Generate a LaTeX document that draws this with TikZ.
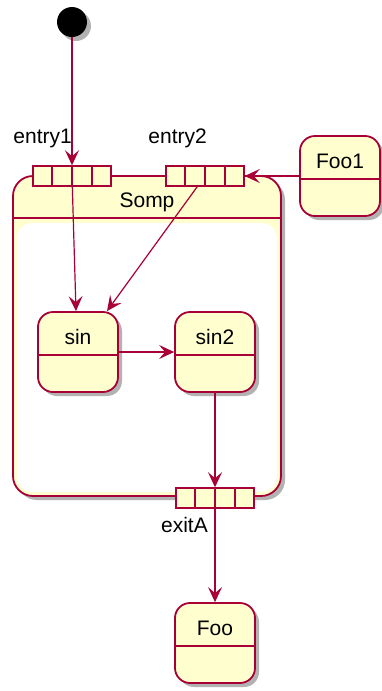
\documentclass[tikz,border=0pt]{standalone}
\usepackage{fontspec}
\setmainfont{Liberation Sans}
\usetikzlibrary{arrows.meta,shadows,calc}
\definecolor{StateFill}{HTML}{FEFECE}
\definecolor{StateBorder}{HTML}{A80036}

\begin{document}
\begin{tikzpicture}[x=1pt, y=-1pt,
  >={Stealth[length=15pt,width=14pt,inset=6pt]},
  every node/.style={font=\fontsize{21}{25}\selectfont, inner sep=0pt},
  softshadow/.style={drop shadow={shadow xshift=4pt, shadow yshift=-4pt, opacity=0.3, fill=black}},
  statebox/.style={draw=StateBorder, fill=StateFill, line width=1.8pt, rounded corners=15pt,
    minimum width=80pt, minimum height=80pt, text height=32pt, text depth=48pt, softshadow},
  compositebox/.style={draw=StateBorder, fill=StateFill, line width=1.8pt, rounded corners=20pt, softshadow},
  pinbox/.style={draw=StateBorder, fill=StateFill, line width=1.5pt, minimum width=78pt, minimum height=20pt},
  stateline/.style={draw=StateBorder, line width=1.5pt},
  trans/.style={->, draw=StateBorder, line width=1.2pt}]
  \useasboundingbox (0,0) rectangle (382,691);
  % initial state
  \node[circle, fill=black, minimum size=30pt, softshadow] (start) at (72,22) {};
  % composite state Somp
  \node[compositebox, minimum width=268pt, minimum height=320pt] (Somp) at (147,336) {};
  \fill[white, rounded corners=15pt]
    ([xshift=5pt,yshift=-48pt]Somp.north west) rectangle ([xshift=-5pt,yshift=5pt]Somp.south east);
  \draw[stateline] ([yshift=-43pt]Somp.north west) -- ([yshift=-43pt]Somp.north east);
  \node[anchor=base] (somplbl) at ([yshift=-32pt]Somp.north) {Somp};
  % inner states
  \node[statebox] (sin) at (78,352) {sin};
  \node[statebox] (sin2) at (215,352) {sin2};
  \node[statebox] (Foo) at (215,643) {Foo};
  \node[statebox] (Foo1) at (340,176) {Foo1};
  \foreach \s in {sin,sin2,Foo,Foo1}
    \draw[stateline] ([yshift=-44pt]\s.north west) -- ([yshift=-44pt]\s.north east);
  % entry / exit pins
  \node[pinbox] (entry1) at (72,176) {};
  \node[pinbox] (entry2) at (205,176) {};
  \node[pinbox] (exitA) at (215,498) {};
  \foreach \p in {entry1,entry2,exitA}
    \foreach \k in {1,2,3}
      \draw[stateline] ($(\p.north west)!\k/4!(\p.north east)$) -- ($(\p.south west)!\k/4!(\p.south east)$);
  \node[anchor=base east] (entry1lbl) at ([yshift=33pt]entry1.center) {entry1};
  \node[anchor=base east] (entry2lbl) at ([xshift=2pt,yshift=33pt]entry2.center) {entry2};
  \node[anchor=base east] (exitAlbl) at ([xshift=-7pt,yshift=-34pt]exitA.center) {exitA};
  % transitions
  \draw[trans] (start) -- (entry1.north);
  \draw[trans] (entry1.center) -- ([xshift=-2pt]sin.north);
  \draw[trans] ($(entry2.center)!12pt!([xshift=29pt]sin.north)$) -- ([xshift=29pt]sin.north);
  \draw[trans] (Foo1.west) -- (entry2.east);
  \draw[trans] (sin.east) -- (sin2.west);
  \draw[trans] (sin2.south) -- (exitA.north);
  \draw[trans] (exitA.center) -- (Foo.north);
\end{tikzpicture}
\end{document}
